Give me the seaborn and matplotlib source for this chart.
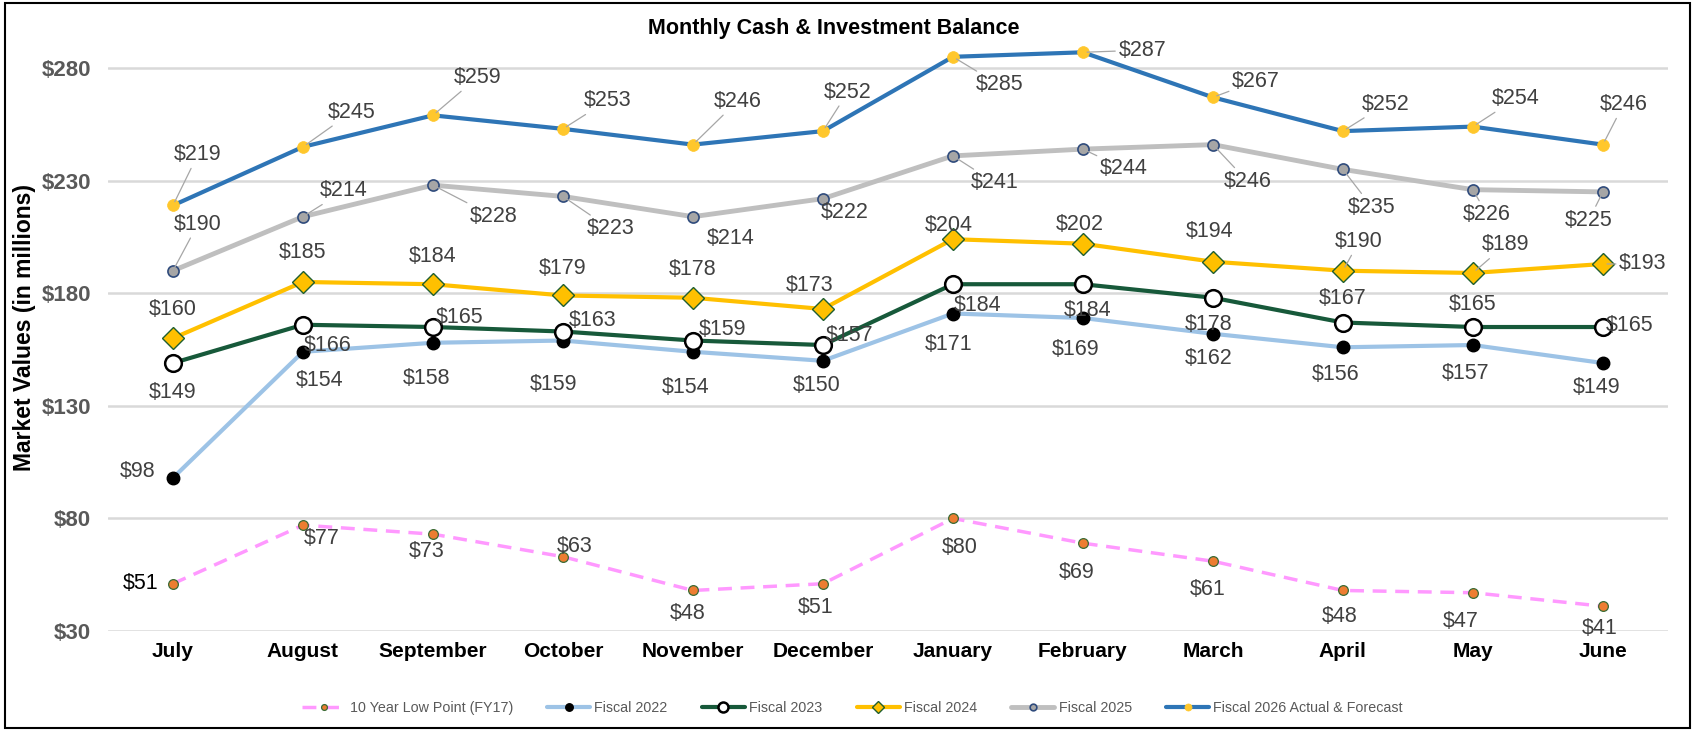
import matplotlib
matplotlib.use("Agg")
import matplotlib.pyplot as plt
import seaborn as sns
import pandas as pd
from matplotlib.patches import Rectangle

months = ["July", "August", "September", "October", "November", "December",
          "January", "February", "March", "April", "May", "June"]

fy17 = [51, 77, 73, 63, 48, 51, 80, 69, 61, 48, 47, 41]
fy22 = [98, 154, 158, 159, 154, 150, 171, 169, 162, 156, 157, 149]
fy23 = [149, 166, 165, 163, 159, 157, 184, 184, 178, 167, 165, 165]
fy24 = [160, 185, 184, 179, 178, 173, 204, 202, 194, 190, 189, 193]
fy25 = [190, 214, 228, 223, 214, 222, 241, 244, 246, 235, 226, 225]
fy26 = [219, 245, 259, 253, 246, 252, 285, 287, 267, 252, 254, 246]

series_names = ["10 Year Low Point (FY17)", "Fiscal 2022", "Fiscal 2023",
                "Fiscal 2024", "Fiscal 2025", "Fiscal 2026 Actual & Forecast"]
yticks = [30, 80, 130, 180, 230, 280]

sns.set_theme(style="white")
plt.rcParams["font.family"] = ["Liberation Sans", "DejaVu Sans"]

fig = plt.figure(figsize=(16.95, 7.31), dpi=100)
ax = fig.add_axes([0.0637, 0.1368, 0.9203, 0.8317])

styles = {
    "10 Year Low Point (FY17)": dict(color="#FF99FF", ls=(0, (4, 2.5)), lw=2.5, marker="o",
                                     ms=7, mfc="#ED7D31", mec="#3A6B35", mew=0.9),
    "Fiscal 2022": dict(color="#9DC3E6", ls="-", lw=3, marker="o",
                        ms=9, mfc="black", mec="black", mew=1),
    "Fiscal 2023": dict(color="#17593A", ls="-", lw=3, marker="o",
                        ms=12, mfc="white", mec="black", mew=1.8),
    "Fiscal 2024": dict(color="#FFC000", ls="-", lw=3, marker="D",
                        ms=11, mfc="#FFC000", mec="#1F5F2F", mew=1),
    "Fiscal 2025": dict(color="#BFBFBF", ls="-", lw=3.5, marker="o",
                        ms=8, mfc="#A6A6A6", mec="#2F4B7C", mew=1.2),
    "Fiscal 2026 Actual & Forecast": dict(color="#2E75B6", ls="-", lw=3, marker="o",
                                          ms=8.5, mfc="#FFC72C", mec="#FFC72C", mew=0.5),
}
values = dict(zip(series_names, [fy17, fy22, fy23, fy24, fy25, fy26]))

for name in series_names:
    st = styles[name]
    df = pd.DataFrame({"month": months, "value": values[name]})
    sns.lineplot(data=df, x="month", y="value", ax=ax, sort=False, label=name,
                 color=st["color"], linestyle=st["ls"], linewidth=st["lw"],
                 marker=st["marker"], markersize=st["ms"], markerfacecolor=st["mfc"],
                 markeredgecolor=st["mec"], markeredgewidth=st["mew"], zorder=3)

# label offsets (screen px, y down) and leader-line flags
offsets = {
    "Fiscal 2026 Actual & Forecast": [(23, -47), (45, -32), (41, -35), (41, -26), (41, -40), (23, -36),
                                      (43, 26), (55, -2), (40, -15), (40, -25), (40, -26), (19, -37)],
    "Fiscal 2025": [(23, -43), (38, -24), (56, 29), (44, 30), (35, 20), (20, 13),
                    (39, 25), (38, 18), (32, 34), (27, 35), (13, 23), (-13, 26)],
    "Fiscal 2024": [(0, -27), (0, -27), (0, -26), (0, -25), (0, -26), (-12, -22),
                    (-4, -13), (-3, -18), (-3, -28), (15, -27), (30, -26), (37, 0)],
    "Fiscal 2023": [(0, 27), (23, 19), (25, -9), (27, -10), (27, -10), (25, -9),
                    (23, 20), (4, 24), (-4, 25), (0, -22), (0, -21), (25, -1)],
    "Fiscal 2022": [(-33, -6), (15, 27), (-6, 33), (-9, 41), (-7, 33), (-6, 23),
                    (-4, 29), (-7, 29), (-4, 23), (-7, 25), (-7, 26), (-6, 23)],
    "10 Year Low Point (FY17)": [(-30, 0), (17, 12), (-6, 16), (11, -9), (-5, 21), (-7, 22),
                                 (6, 27), (-6, 27), (-5, 26), (-3, 24), (-11, 27), (-3, 21)],
}
leaders = {
    "Fiscal 2026 Actual & Forecast": [True] * 12,
    "Fiscal 2025": [True, True, True, True, False, False, True, True, True, True, True, True],
    "Fiscal 2024": [False] * 9 + [True, True, True],
}
k = 1.081 * 0.72
for name in series_names:
    for i, (m, v) in enumerate(zip(months, values[name])):
        dx, dy = offsets[name][i]
        lead = leaders.get(name, [False] * 12)[i]
        ap = dict(arrowstyle="-", color="#A6A6A6", lw=0.9, shrinkA=0, shrinkB=3) if lead else None
        col = "black" if (name.startswith("10 Year") and i == 0) else "#404040"
        ax.annotate(f"${v}", xy=(m, v), xytext=(dx * k, -dy * k), textcoords="offset points",
                    ha="center", va="center", fontsize=15.5, color=col,
                    arrowprops=ap, zorder=5)

ax.set_ylim(30, 300)
ax.set_xlim(-0.5, len(months) - 0.5)
ax.set_yticks(yticks)
ax.set_yticklabels([f"${t}" for t in yticks], fontsize=16, fontweight="bold", color="#595959")
ax.tick_params(axis="x", labelsize=15, pad=8, length=0, labelcolor="black")
for lab in ax.get_xticklabels():
    lab.set_fontweight("bold")
ax.tick_params(axis="y", length=0, pad=12)
ax.yaxis.grid(True, color="#D9D9D9", lw=1.8)
ax.xaxis.grid(False)
ax.set_axisbelow(True)
for s in ax.spines.values():
    s.set_visible(False)
ax.set_xlabel("")
ax.set_ylabel("Market Values (in millions)", fontsize=16.5, fontweight="bold", color="black", labelpad=4)

fig.text(0.492, 0.961, "Monthly Cash & Investment Balance", ha="center", va="center",
         fontsize=15.5, fontweight="bold", color="black")

ax.get_legend().remove()
handles, labels = ax.get_legend_handles_labels()
fig.legend(handles, labels, loc="center", bbox_to_anchor=(0.503, 0.032), ncol=6, frameon=False,
           fontsize=10.3, labelcolor="#595959", handlelength=3, columnspacing=2.4, handletextpad=0.3,
           markerscale=0.6)

fig.patches.append(Rectangle((0.003, 0.004), 0.994, 0.992, transform=fig.transFigure,
                             fill=False, edgecolor="black", lw=1.5))

fig.savefig("out.png", dpi=100)
